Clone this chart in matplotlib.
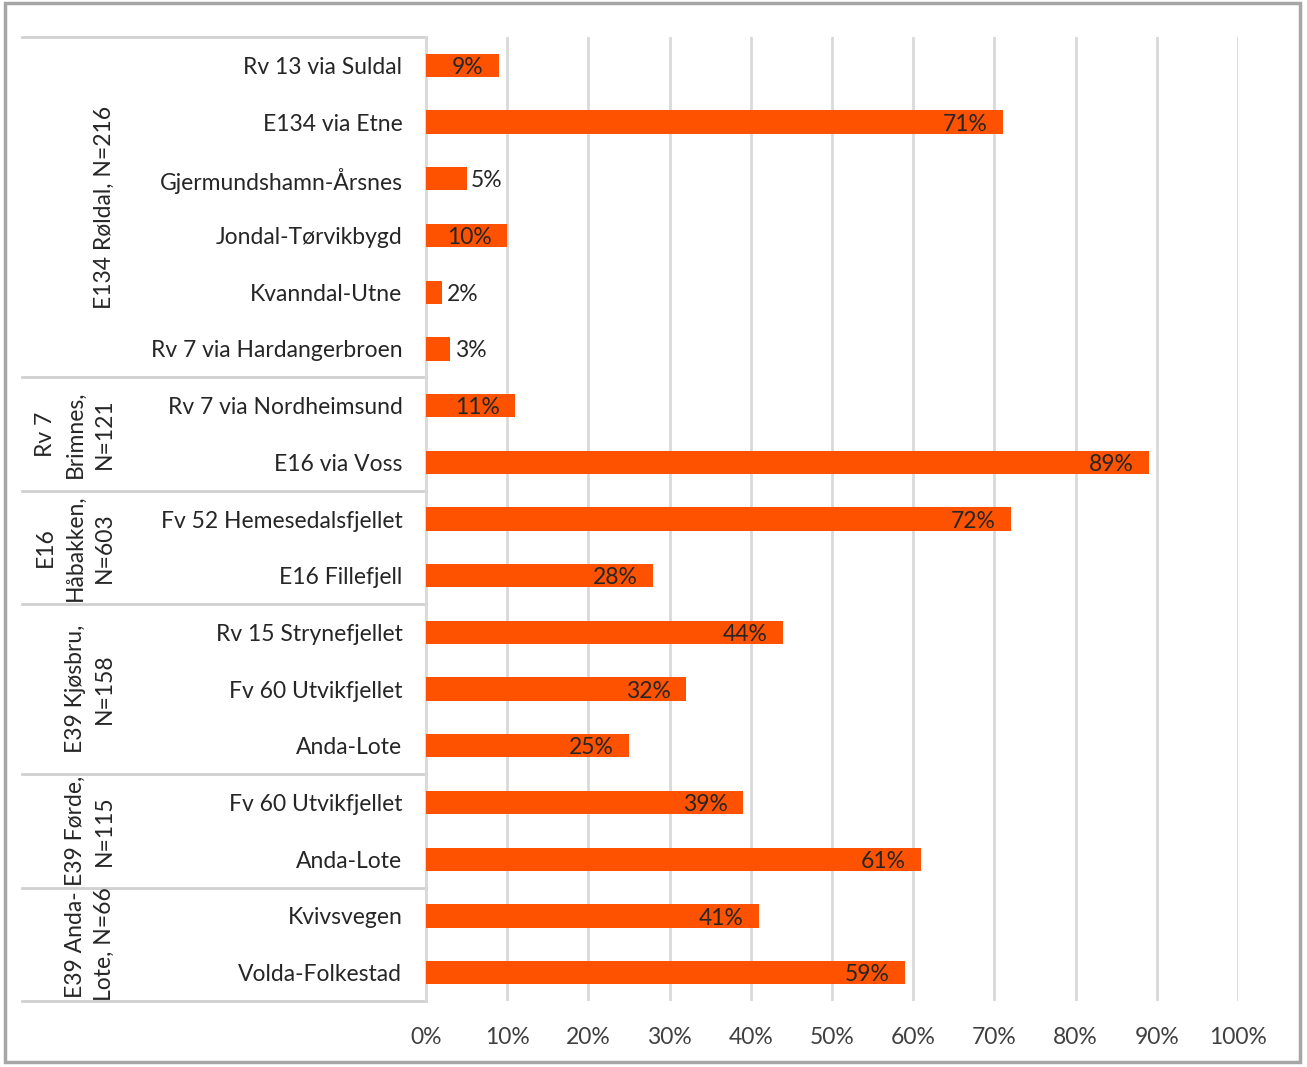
import matplotlib
matplotlib.use('Agg')
import matplotlib.pyplot as plt
import matplotlib.transforms as mtransforms
from matplotlib.patches import Rectangle
from matplotlib.lines import Line2D

plt.rcParams['font.family'] = ['Lato', 'DejaVu Sans']

# data
ruter = ['Rv 13 via Suldal', 'E134 via Etne', 'Gjermundshamn-Årsnes',
         'Jondal-Tørvikbygd', 'Kvanndal-Utne', 'Rv 7 via Hardangerbroen',
         'Rv 7 via Nordheimsund', 'E16 via Voss',
         'Fv 52 Hemesedalsfjellet', 'E16 Fillefjell',
         'Rv 15 Strynefjellet', 'Fv 60 Utvikfjellet', 'Anda-Lote',
         'Fv 60 Utvikfjellet', 'Anda-Lote',
         'Kvivsvegen', 'Volda-Folkestad']
andel = [9, 71, 5, 10, 2, 3, 11, 89, 72, 28, 44, 32, 25, 39, 61, 41, 59]

grupper = ['E134 Røldal, N=216', 'Rv 7\nBrimnes,\nN=121', 'E16\nHåbakken,\nN=603',
           'E39 Kjøsbru,\nN=158', 'E39 Førde,\nN=115', 'E39 Anda-\nLote, N=66']
gruppe_str = [6, 2, 2, 3, 2, 2]

x_ticks = [0, 10, 20, 30, 40, 50, 60, 70, 80, 90, 100]

FS = 16.5
W, H = 1307, 1067
fig = plt.figure(figsize=(W / 100, H / 100), dpi=100)
ax = fig.add_axes([426 / W, 1 - 1001 / H, (1238 - 426) / W, (1001 - 37) / H])

y = list(range(len(ruter)))
ax.barh(y, andel, height=0.41, color='#ff5200', zorder=3)

ax.set_xlim(0, 100)
ax.set_ylim(len(ruter) - 0.5, -0.5)
ax.set_xticks(x_ticks)
ax.set_xticklabels([f'{t}%' for t in x_ticks], fontsize=FS, color='#404040')
ax.set_yticks(y)
ax.set_yticklabels(ruter, fontsize=FS, color='#262626')
ax.tick_params(axis='y', length=0, pad=17)
ax.tick_params(axis='x', length=0, pad=19)
ax.grid(axis='x', color='#d9d9d9', linewidth=2, zorder=0)
for s in ['top', 'right', 'bottom']:
    ax.spines[s].set_visible(False)
ax.spines['left'].set_color('#d9d9d9')
ax.spines['left'].set_linewidth(1.5)

# verdietiketter
for i, v in enumerate(andel):
    if v >= 9:
        ax.annotate(f'{v}%', (v, i), xytext=(-11, -1.5), textcoords='offset points',
                    ha='right', va='center', fontsize=FS, color='#262626', zorder=4)
    else:
        ax.annotate(f'{v}%', (v, i), xytext=(3, -1.5), textcoords='offset points',
                    ha='left', va='center', fontsize=FS, color='#262626', zorder=4)

# gruppeetiketter og skillelinjer
trans = mtransforms.blended_transform_factory(fig.transFigure, ax.transData)
start = -0.5
grenser = [start]
for navn, n in zip(grupper, gruppe_str):
    slutt = start + n
    midt = (start + slutt) / 2
    ax.text(115 / W, midt, navn, transform=trans, rotation=90, ha='right', va='center',
            multialignment='center', fontsize=FS, color='#262626', linespacing=1.5)
    grenser.append(slutt)
    start = slutt
for g in grenser:
    ax.add_line(Line2D([22 / W, 426 / W], [g, g], transform=trans, color='#d0d0d0',
                       linewidth=2, clip_on=False))

# ramme rundt figuren
fig.patches.append(Rectangle((5 / W, 1 - 1062 / H), 1295 / W, 1059 / H,
                             transform=fig.transFigure, fill=False,
                             edgecolor='#a6a6a6', linewidth=2.5))

plt.savefig('out.png', dpi=100)
